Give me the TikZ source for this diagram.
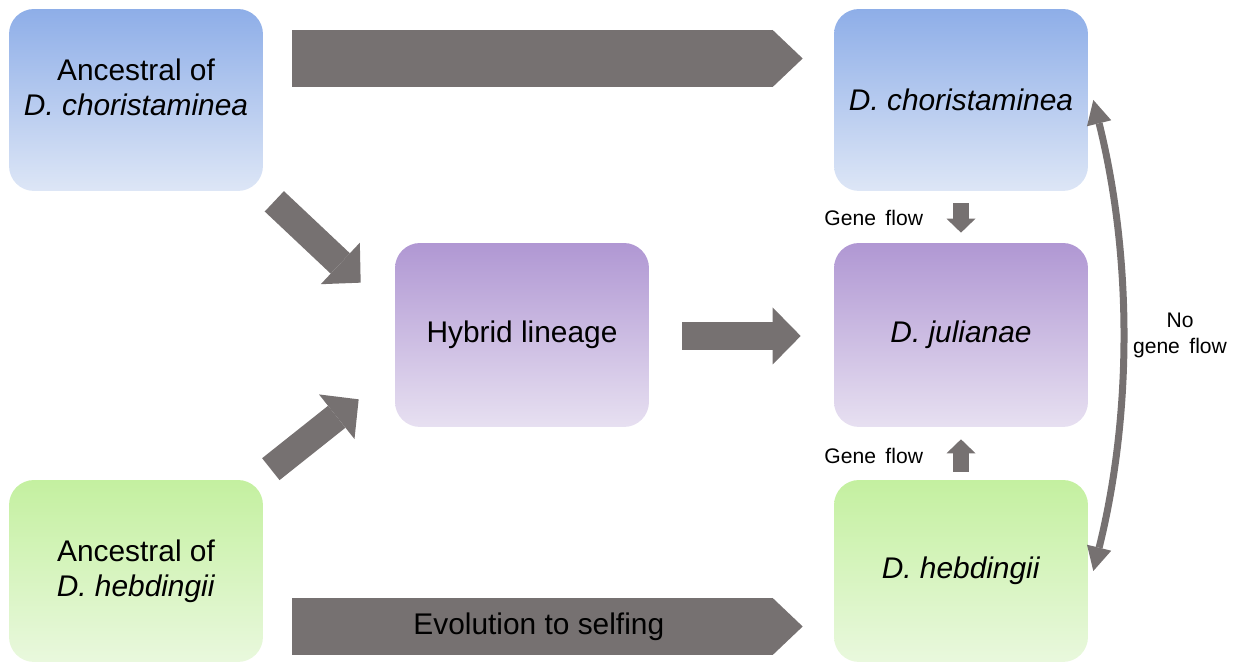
\documentclass[tikz,border=0pt]{standalone}
\usepackage{fontspec}
\setmainfont{Liberation Sans}
\usepackage{tikz}
\usetikzlibrary{positioning,
                calc,
                arrows.meta}
\definecolor{ancblue}{HTML}{8EAEE8}
\definecolor{ancbluelight}{HTML}{DDE6F6}
\definecolor{hybpurple}{HTML}{B097D3}
\definecolor{hybpurplelight}{HTML}{E7E0F1}
\definecolor{selfgreen}{HTML}{C4F0A0}
\definecolor{selfgreenlight}{HTML}{E9F8DD}
\definecolor{flowgrey}{HTML}{767171}

\begin{document}
\begin{tikzpicture}[x=0.02cm,y=0.02cm]  % <-- one unit = one pixel

\tikzset{
taxonbox/.style={
rounded corners=0.5cm,
minimum width=5.08cm,
minimum height=3.64cm,
inner sep=0pt,
align=center,
font=\fontsize{17}{19.9}\selectfont
},
bluebox/.style={taxonbox,top color=ancblue,bottom color=ancbluelight},
purplebox/.style={taxonbox,minimum height=3.68cm,top color=hybpurple,bottom color=hybpurplelight},
greenbox/.style={taxonbox,top color=selfgreen,bottom color=selfgreenlight},
bigflow/.style={
draw=flowgrey,
line width=1.14cm,
-{Triangle[length=0.6cm,width=1.14cm,line width=0pt]}
},
mergeflow/.style={
draw=flowgrey,
line width=0.56cm,
-{Triangle[length=0.56cm,width=1.14cm,line width=0pt]}
},
geneflow/.style={
draw=flowgrey,
line width=0.32cm,
-{Triangle[length=0.28cm,width=0.58cm,line width=0pt]}
},
noflow/.style={
draw=flowgrey,
line width=0.14cm,
{Triangle[length=0.48cm,width=0.5cm,line width=0pt]}-{Triangle[length=0.48cm,width=0.5cm,line width=0pt]}
},
flowlabel/.style={
inner sep=0pt,
align=center,
font=\fontsize{12}{15}\selectfont,
execute at begin node={\spaceskip=0.45em\relax}
}
}

\useasboundingbox (0,0) rectangle (1242,662);

%----------------------------------
% ANCESTRAL LINEAGES
%----------------------------------

\node[bluebox] (ancC) at (136,562)
{\raisebox{0.18cm}[\height][\depth]{\begin{tabular}{@{}c@{}}Ancestral of\\\textit{D. choristaminea}\end{tabular}}};
\node[greenbox] (ancH) at (136,91) {Ancestral of\\\textit{D. hebdingii}};

%----------------------------------
% HYBRID
%----------------------------------

\node[purplebox] (hyb) at (522,327) {Hybrid lineage};

%----------------------------------
% PRESENT-DAY SPECIES
%----------------------------------

\node[bluebox] (chor) at (961,562) {\textit{D. choristaminea}};
\node[purplebox] (jul) at (961,327) {\textit{D. julianae}};
\node[greenbox] (hebd) at (961,91) {\textit{D. hebdingii}};

%----------------------------------
% BLOCK ARROWS
%----------------------------------

\draw[bigflow] ($(ancC.east)+(29,41.5)$) -- ($(chor.west)+(-31,41.5)$);
\draw[bigflow] ($(ancH.east)+(29,-55.5)$) --
  node[pos=0.483,font=\fontsize{17}{20}\selectfont] {Evolution to selfing}
  ($(hebd.west)+(-31,-55.5)$);

\draw[mergeflow] ($(ancC.south east)+(11,-10)$) -- ($(hyb.north west)+(-34,-40)$);
\draw[mergeflow] ($(ancH.north east)+(7.5,10.5)$) -- ($(hyb.south west)+(-36,28)$);
\draw[mergeflow] ($(hyb.east)+(33,-1)$) -- ($(jul.west)+(-33,-1)$);

%----------------------------------
% GENE FLOW
%----------------------------------

\draw[geneflow] ($(chor.south)+(0,-12)$) --
  node[flowlabel,left=0.6cm] {Gene flow} ($(jul.north)+(0,10)$);
\draw[geneflow] ($(hebd.north)+(0,8)$) --
  node[flowlabel,left=0.6cm] {Gene flow} ($(jul.south)+(0,-12)$);

\draw[noflow] ($(chor.east)+(5,0)$) .. controls +(39,-157) and +(39,157) ..
  node[flowlabel,right=0.14cm] {No\\gene flow} ($(hebd.east)+(5,0)$);

\end{tikzpicture}
\end{document}
